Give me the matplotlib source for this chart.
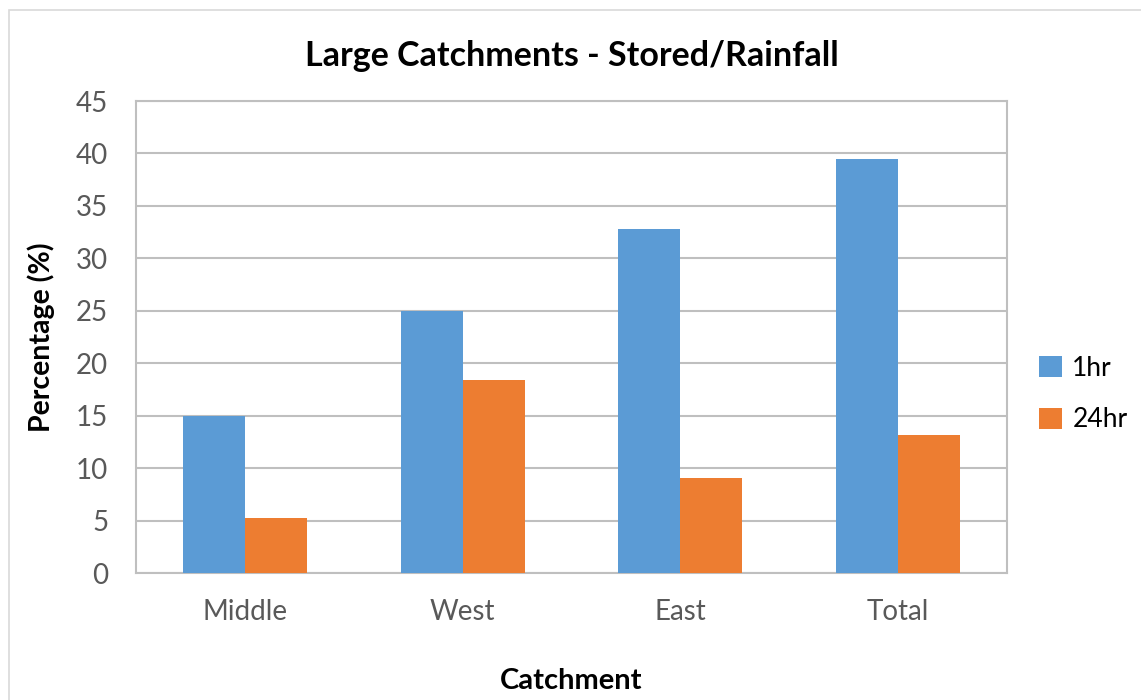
import numpy as np
import matplotlib
matplotlib.use("Agg")
from matplotlib import pyplot
from matplotlib.patches import Rectangle

categories = ["Middle", "West", "East", "Total"]
series_names = ["1hr", "24hr"]
values_1hr = [15.0, 25.0, 32.8, 39.5]
values_24hr = [5.2, 18.4, 9.1, 13.2]
y_ticks = [0, 5, 10, 15, 20, 25, 30, 35, 40, 45]

blue = "#5B9BD5"
orange = "#ED7D31"
grid_grey = "#BFBFBF"
text_grey = "#595959"

pyplot.rcParams["font.family"] = ["Lato", "DejaVu Sans"]

fig = pyplot.figure(figsize=(11.41, 7.0), dpi=100)
# chart area border
fig.patches.append(Rectangle((9 / 1141, -0.01), 1.1, 1 - 10 / 700 + 0.01, transform=fig.transFigure,
                             fill=False, edgecolor="#D9D9D9", lw=1.2))

ax = fig.add_axes([136 / 1141, 1 - 573 / 700, 871 / 1141, 472 / 700])

x = np.arange(len(categories))
width = 0.285
ax.bar(x - width / 2, values_1hr, width, color=blue, label=series_names[0], zorder=3)
ax.bar(x + width / 2, values_24hr, width, color=orange, label=series_names[1], zorder=3)

ax.set_xlim(-0.5, len(categories) - 0.5)
ax.set_ylim(0, 45)
ax.set_yticks(y_ticks)
ax.set_xticks(x)
ax.set_xticklabels(categories)
ax.tick_params(axis="both", length=0, labelsize=20, labelcolor=text_grey)
ax.tick_params(axis="x", pad=19)
ax.tick_params(axis="y", pad=20)
ax.yaxis.grid(True, color=grid_grey, lw=1.5, zorder=0)
for side in ["top", "right", "left", "bottom"]:
    ax.spines[side].set_color(grid_grey)
    ax.spines[side].set_linewidth(1.5)

ax.set_title("Large Catchments - Stored/Rainfall", fontsize=24.5, fontweight="bold", pad=25)
ax.set_xlabel("Catchment", fontsize=21, fontweight="bold", labelpad=31)
ax.set_ylabel("Percentage (%)", fontsize=20.5, fontweight="bold", labelpad=15)

ax.legend(loc="center left", bbox_to_anchor=(1.025, 0.379), borderaxespad=0, frameon=False, fontsize=19,
          handlelength=0.85, handleheight=0.85, handletextpad=0.4, labelspacing=1.0)

fig.savefig("out.png", dpi=100)
